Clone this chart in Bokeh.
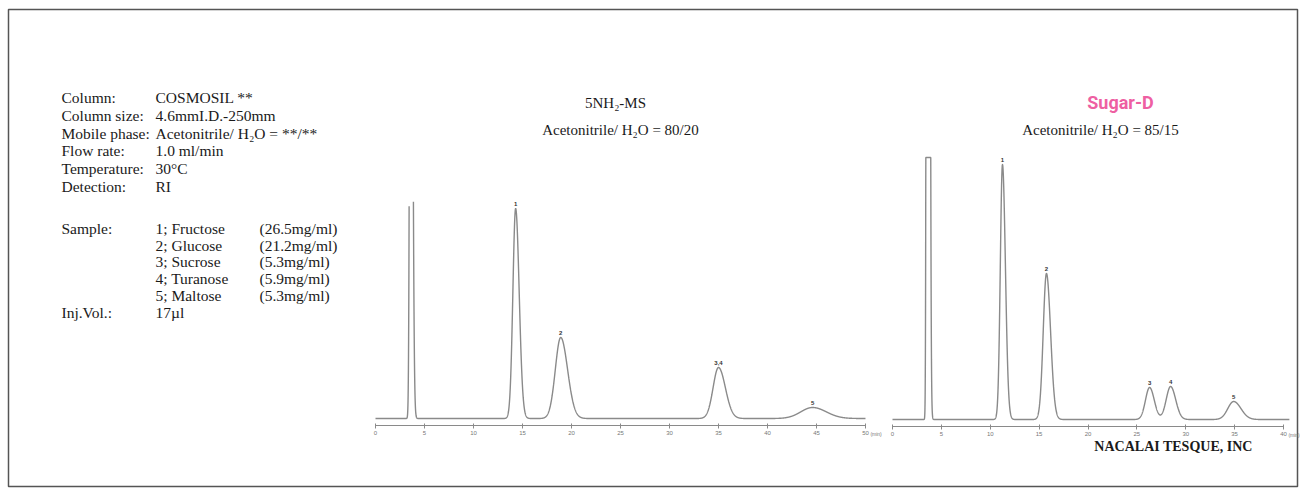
import numpy as np
from bokeh.plotting import figure
from bokeh.models import Range1d, LinearAxis, FixedTicker
from bokeh.core.properties import value
from bokeh.embed import file_html
from bokeh.resources import INLINE

# ---------------- data ----------------
info_labels = ["Column:", "Column size:", "Mobile phase:", "Flow rate:", "Temperature:", "Detection:"]
info_values = ["COSMOSIL **", "4.6mmI.D.-250mm", "Acetonitrile/ H\u2082O = **/**", "1.0 ml/min", "30\u00b0C", "RI"]
sample_names = ["1; Fructose", "2; Glucose", "3; Sucrose", "4; Turanose", "5; Maltose"]
sample_conc = ["(26.5mg/ml)", "(21.2mg/ml)", "(5.3mg/ml)", "(5.9mg/ml)", "(5.3mg/ml)"]
inj_label, inj_value = "Inj.Vol.:", "17\u00b5l"

# 5NH2-MS chromatogram (time in min, response in arbitrary units)
mid_name = "5NH\u2082-MS"
mid_cond = "Acetonitrile/ H\u2082O = 80/20"
mid_ticks = [0, 5, 10, 15, 20, 25, 30, 35, 40, 45, 50]
mid_void = dict(rt=3.6, h=900.0, wl=0.10, wr=0.16)
mid_labels = ["1", "2", "3,4", "5"]
mid_rt = [14.3, 18.9, 35.0, 44.6]
mid_h = [210.0, 81.0, 51.0, 11.0]
mid_wl = [0.28, 0.55, 0.55, 1.2]
mid_wr = [0.36, 0.70, 0.70, 1.4]
mid_cap = 233.0
mid_end = 50.0

# Sugar-D chromatogram
right_name = "Sugar-D"
right_cond = "Acetonitrile/ H\u2082O = 85/15"
right_ticks = [0, 5, 10, 15, 20, 25, 30, 35, 40]
right_void = dict(rt=3.6, h=5000.0, wl=0.08, wr=0.13)
right_labels = ["1", "2", "3", "4", "5"]
right_rt = [11.25, 15.75, 26.3, 28.45, 34.9]
right_h = [255.0, 146.0, 32.0, 33.0, 18.0]
right_wl = [0.22, 0.33, 0.42, 0.45, 0.6]
right_wr = [0.30, 0.42, 0.48, 0.52, 0.75]
right_cap = 262.0
right_end = 40.6

company = "NACALAI TESQUE, INC"


def trace(t, void, rts, hs, wl, wr):
    y = np.zeros_like(t)
    allp = [(void["rt"], void["h"], void["wl"], void["wr"])] + list(zip(rts, hs, wl, wr))
    for rt, h, a, b in allp:
        s = np.where(t < rt, a, b)
        y += h * np.exp(-0.5 * ((t - rt) / s) ** 2)
    return y


# ---------------- figure ----------------
W, H = 1304, 494
p = figure(width=W, height=H, x_range=Range1d(0, W), y_range=Range1d(H, 0),
           x_axis_type=None, y_axis_type=None, toolbar_location=None,
           output_backend="svg", min_border=0)
p.outline_line_color = None
p.background_fill_color = "white"
p.border_fill_color = "white"

# layout of the two chromatogram panels (pixel positions)
mid_x0, mid_ppm, mid_base, mid_axis_y = 375.0, 9.8, 418.0, 425.0
r_x0, r_ppm, r_base, r_axis_y = 892.0, 9.775, 419.0, 426.0

p.extra_x_ranges = {
    "mx": Range1d(-mid_x0 / mid_ppm, (W - mid_x0) / mid_ppm),
    "rx": Range1d(-r_x0 / r_ppm, (W - r_x0) / r_ppm),
}
p.extra_y_ranges = {
    "my": Range1d(mid_base - H, mid_base),
    "ry": Range1d(r_base - H, r_base),
}

# outer frame
p.quad(left=[8], right=[1297], top=[9], bottom=[486], fill_color=None,
       line_color="#555555", line_width=1.5)

serif = value("Liberation Serif")
txt = "#1a1a1a"
fs = "15.5px"

# info block
y0, dy = 97.0, 17.8
ys = [y0 + i * dy for i in range(len(info_labels))]
p.text(x=[61] * len(ys), y=ys, text=info_labels, text_font=serif, text_font_size=fs,
       text_baseline="middle", text_color=txt)
p.text(x=[155] * len(ys), y=ys, text=info_values, text_font=serif, text_font_size=fs,
       text_baseline="middle", text_color=txt)
dy2 = 16.7
ys2 = [228.0 + i * dy2 for i in range(len(sample_names))]
p.text(x=[61], y=[ys2[0]], text=["Sample:"], text_font=serif, text_font_size=fs,
       text_baseline="middle", text_color=txt)
p.text(x=[155] * len(ys2), y=ys2, text=sample_names, text_font=serif, text_font_size=fs,
       text_baseline="middle", text_color=txt)
p.text(x=[259] * len(ys2), y=ys2, text=sample_conc, text_font=serif, text_font_size=fs,
       text_baseline="middle", text_color=txt)
yinj = ys2[-1] + dy2
p.text(x=[61, 155], y=[yinj, yinj], text=[inj_label, inj_value], text_font=serif,
       text_font_size=fs, text_baseline="middle", text_color=txt)

# panel titles
p.text(x=[615], y=[102], text=[mid_name], text_font=serif, text_font_size="15px",
       text_align="center", text_baseline="middle", text_color=txt)
p.text(x=[620], y=[129], text=[mid_cond], text_font=serif, text_font_size="15px",
       text_align="center", text_baseline="middle", text_color=txt)
p.text(x=[1120], y=[102], text=[right_name], text_font=value("Roboto"), text_font_size="18px",
       text_font_style="bold", text_align="center", text_baseline="middle", text_color="#ee5fa2")
p.text(x=[1100], y=[129], text=[right_cond], text_font=serif, text_font_size="15px",
       text_align="center", text_baseline="middle", text_color=txt)
p.text(x=[1173], y=[446], text=[company], text_font=serif, text_font_size="14px",
       text_font_style="bold", text_align="center", text_baseline="middle", text_color=txt)

# traces
line_col = "#8a8a8a"
tm = np.linspace(0, mid_end, 5001)
ym = trace(tm, mid_void, mid_rt, mid_h, mid_wl, mid_wr)
ym[ym > mid_cap] = np.nan
p.line(tm, ym, x_range_name="mx", y_range_name="my", line_color=line_col, line_width=1.4)

tr = np.linspace(0, right_end, 5001)
yr = np.minimum(trace(tr, right_void, right_rt, right_h, right_wl, right_wr), right_cap)
p.line(tr, yr, x_range_name="rx", y_range_name="ry", line_color=line_col, line_width=1.4)

# peak labels
lab_font = value("Liberation Sans")
p.text(x=mid_rt, y=mid_h, text=mid_labels, x_range_name="mx", y_range_name="my",
       text_font=lab_font, text_font_size="6px", text_font_style="bold", text_align="center",
       text_baseline="bottom", y_offset=-3, text_color="#333333")
p.text(x=right_rt, y=right_h, text=right_labels, x_range_name="rx", y_range_name="ry",
       text_font=lab_font, text_font_size="6px", text_font_style="bold", text_align="center",
       text_baseline="bottom", y_offset=-3, text_color="#333333")

# axes
for rng, ticks, loc in (("mx", mid_ticks, mid_axis_y), ("rx", right_ticks, r_axis_y)):
    ax = LinearAxis(x_range_name=rng, ticker=FixedTicker(ticks=ticks),
                    bounds=(ticks[0], ticks[-1]), fixed_location=loc)
    ax.axis_line_color = "#8a8a8a"
    ax.axis_line_width = 1.2
    ax.major_tick_line_color = "#8a8a8a"
    ax.major_tick_in = 2
    ax.major_tick_out = 3
    ax.minor_tick_line_color = None
    ax.major_label_text_font = "Liberation Sans"
    ax.major_label_text_font_size = "6px"
    ax.major_label_text_color = "#777777"
    ax.major_label_standoff = 2
    p.add_layout(ax, "below")
    p.text(x=[ticks[-1] + 0.5], y=[loc + 8], text=["(min)"], x_range_name=rng,
           text_font=lab_font, text_font_size="5px", text_align="left",
           text_baseline="middle", text_color="#777777")

open("out.html", "w").write(file_html(p, INLINE))
